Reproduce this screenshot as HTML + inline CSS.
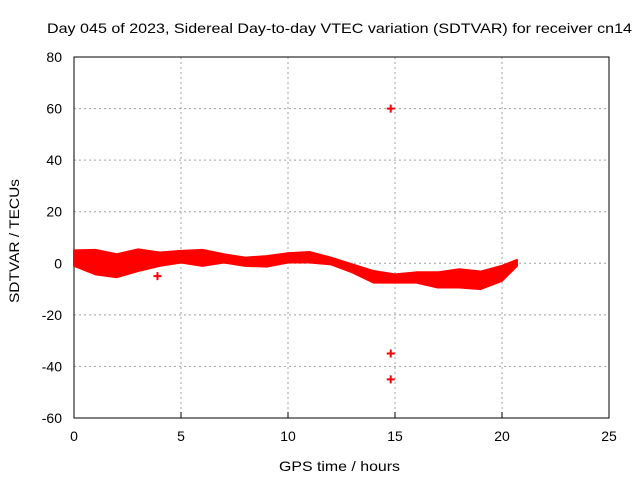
<!DOCTYPE html>
<html><head><meta charset="utf-8"><style>
body{margin:0;background:#fff;font-family:"Liberation Sans",sans-serif}
svg text{font-family:"Liberation Sans",sans-serif;font-size:14px;fill:#000}
</style></head><body>
<svg id="c" width="640" height="480" xmlns="http://www.w3.org/2000/svg">
<text x="47" y="33" textLength="585" lengthAdjust="spacingAndGlyphs">Day 045 of 2023, Sidereal Day-to-day VTEC variation (SDTVAR) for receiver cn14</text>
<text x="279" y="471" textLength="121" lengthAdjust="spacingAndGlyphs">GPS time / hours</text>
<text transform="translate(19,303) rotate(-90)" textLength="124" lengthAdjust="spacingAndGlyphs">SDTVAR / TECUs</text>
<g id="grid"></g><g id="data"></g>
</svg>
<script>
const times=[0,1,2,3,4,5,6,7,8,9,10,11,12,13,14,15,16,17,18,19,20,20.7];
const upper=[5,5.2,3.5,5.4,4.2,4.8,5.2,3.5,2.2,2.8,3.9,4.4,2.2,-0.4,-3,-4.3,-3.5,-3.5,-2.3,-3.2,-1,1.3];
const lower=[-1,-4.3,-5.4,-3,-1,0.3,-1,0.3,-1,-1.3,0.3,0.3,-0.4,-3.5,-7.5,-7.5,-7.5,-9.4,-9.4,-10,-6.8,-1];
const outT=[14.8,14.8,14.8,3.9];
const outV=[60,-35,-45,-5];
const xTicks=[0,5,10,15,20,25];
const yTicks=[-60,-40,-20,0,20,40,60,80];
const L=74,R=609,T=57,B=418;
const X=t=>L+(t-0)/25*(R-L);
const Y=v=>B-(v+60)/140*(B-T);
const NS='http://www.w3.org/2000/svg';
function mk(tag,at,par){const e=document.createElementNS(NS,tag);for(const k in at)e.setAttribute(k,at[k]);par.appendChild(e);return e;}
const g=document.getElementById('grid'),d=document.getElementById('data');
xTicks.forEach(t=>{
 if(t>0&&t<25){const l=mk('line',{x1:X(t),x2:X(t),y1:T,y2:B,stroke:'#a0a0a0','stroke-dasharray':'2,3'},g);
 }
 const tk=mk('line',{x1:X(t),x2:X(t),y1:B,y2:B-6,stroke:'#000'},g);
 
 const tx=mk('text',{x:X(t),y:B+23,'text-anchor':'middle'},g);tx.textContent=t;
 
});
yTicks.forEach(v=>{
 if(v>-60&&v<80){const l=mk('line',{x1:L,x2:R,y1:Y(v),y2:Y(v),stroke:'#a0a0a0','stroke-dasharray':'2,3'},g);
 }
 const tx=mk('text',{x:62,y:Y(v)+5,'text-anchor':'end'},g);tx.textContent=v;
 
});
const fr=mk('rect',{x:L,y:T,width:R-L,height:B-T,fill:'none',stroke:'#000'},g);

let pts=times.map((t,i)=>X(t)+','+Y(upper[i]));
for(let i=times.length-1;i>=0;i--)pts.push(X(times[i])+','+Y(lower[i]));
const band=mk('polygon',{points:pts.join(' '),fill:'#f00',stroke:'#f00','stroke-width':2,'stroke-linejoin':'round'},d);

outT.forEach((t,i)=>{const x=X(t),y=Y(outV[i]);
 const p=mk('path',{d:`M${x-4},${y}H${x+4}M${x},${y-4}V${y+4}`,stroke:'#f00','stroke-width':2},d);
 });
</script>
</body></html>
